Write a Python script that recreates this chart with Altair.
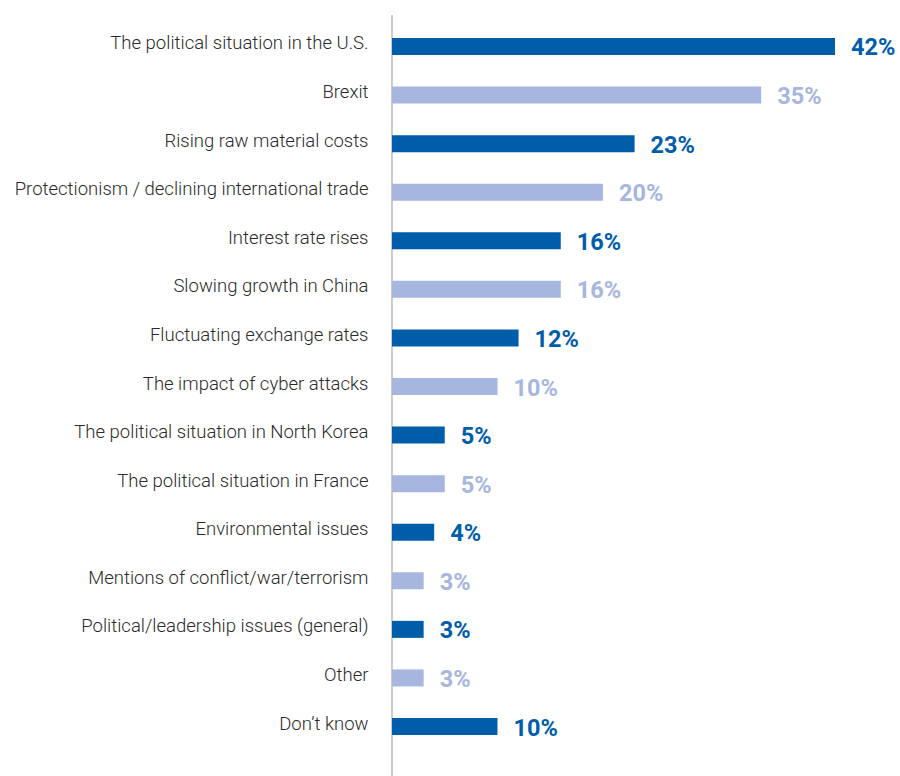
import altair as alt
import pandas as pd

categories = [
    "The political situation in the U.S.",
    "Brexit",
    "Rising raw material costs",
    "Protectionism / declining international trade",
    "Interest rate rises",
    "Slowing growth in China",
    "Fluctuating exchange rates",
    "The impact of cyber attacks",
    "The political situation in North Korea",
    "The political situation in France",
    "Environmental issues",
    "Mentions of conflict/war/terrorism",
    "Political/leadership issues (general)",
    "Other",
    "Don\u2019t know",
]
values = [42, 35, 23, 20, 16, 16, 12, 10, 5, 5, 4, 3, 3, 3, 10]
shades = ["dark", "light"] * 7 + ["dark"]

df = pd.DataFrame({
    "category": categories,
    "value": values,
    "shade": shades,
    "label": [f"{v}%" for v in values],
})

DARK = "#005DAA"
LIGHT = "#A6B6DF"
color_scale = alt.Scale(domain=["dark", "light"], range=[DARK, LIGHT])

y = alt.Y(
    "category:N",
    sort=categories,
    scale=alt.Scale(paddingInner=0.65, paddingOuter=0.325),
    axis=alt.Axis(
        title=None, ticks=False, domain=False, labelPadding=24,
        labelFont="Roboto", labelFontSize=18.5, labelColor="#2a2a2a",
        labelFontWeight=300, labelOffset=-3, labelLimit=400,
    ),
)
x = alt.X("value:Q", scale=alt.Scale(domain=[0, 42]), axis=None)

bars = alt.Chart(df).mark_bar(cornerRadius=0).encode(
    x=x, y=y,
    color=alt.Color("shade:N", scale=color_scale, legend=None),
)

text = alt.Chart(df).mark_text(
    align="left", baseline="middle", dx=16, dy=2,
    font="Roboto", fontSize=23.5, fontWeight="bold",
).encode(
    x=x, y=y, text="label:N",
    color=alt.Color("shade:N", scale=color_scale, legend=None),
)

rule = alt.Chart(df).mark_rule(color="#cccccc", strokeWidth=2).encode(
    x=alt.value(0), y=alt.value(-7), y2=alt.value(760)
)

chart = alt.layer(rule, bars, text).properties(
    width=443, height=728.6,
    autosize=alt.AutoSizeParams(type="none"),
    padding={"left": 392, "top": 22.2, "right": 65, "bottom": 25.2},
).configure_view(stroke=None)

chart.save("out.html", embed_options={"renderer": "svg", "actions": False})
